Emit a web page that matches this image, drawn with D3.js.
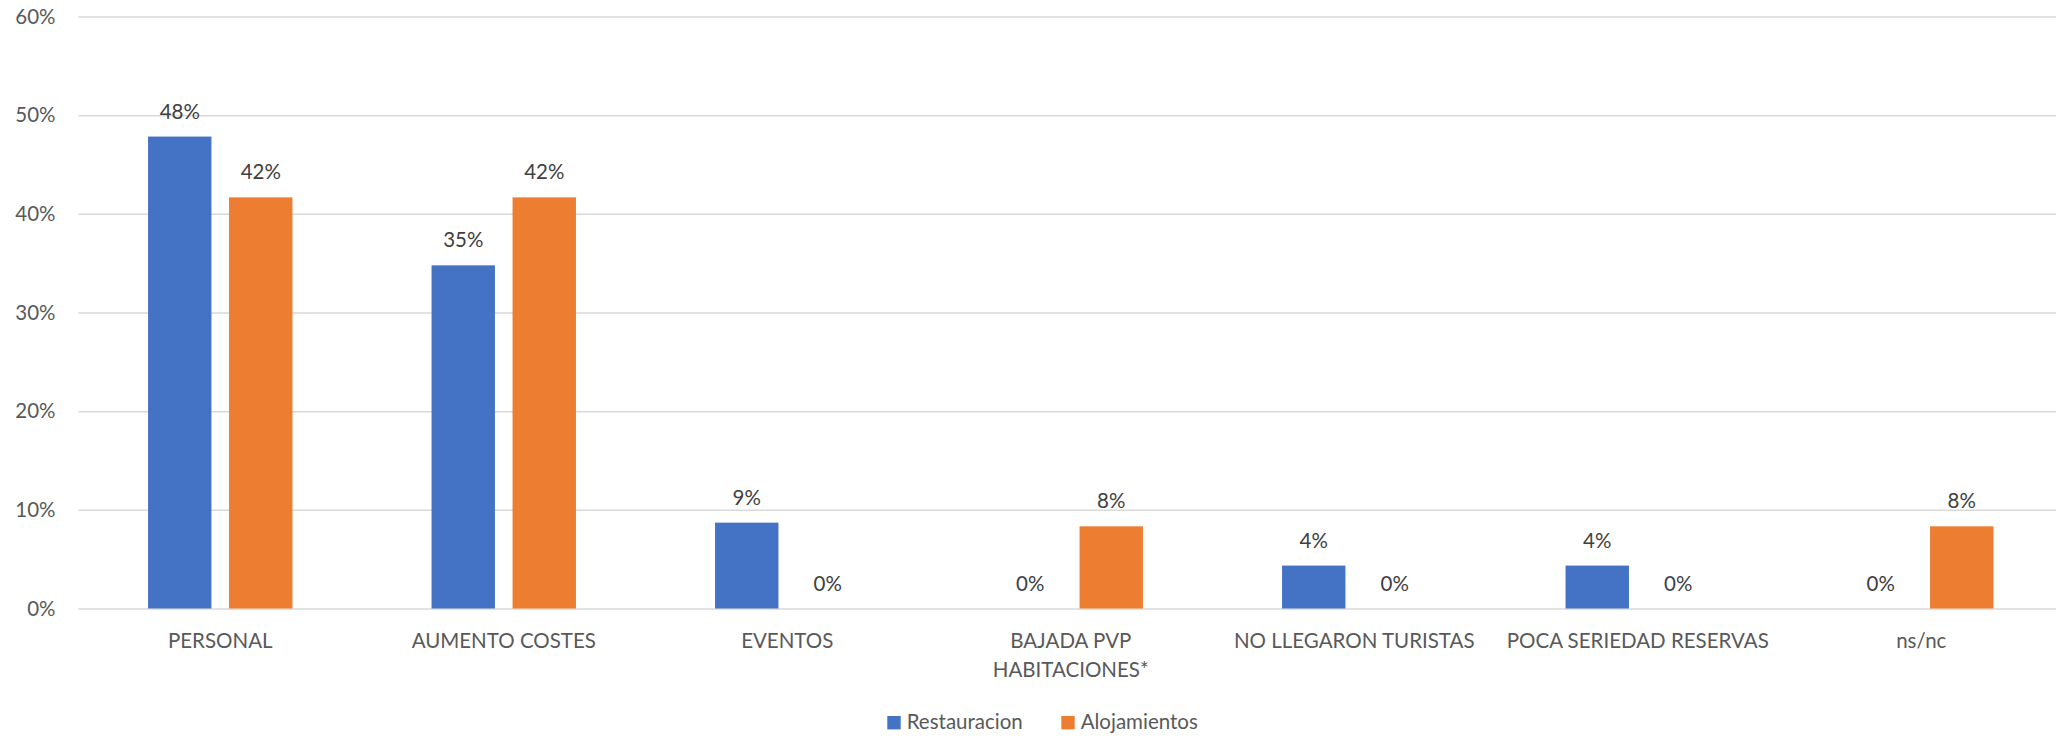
<!DOCTYPE html>
<html>
<head>
<meta charset="utf-8">
<script src="https://cdn.jsdelivr.net/npm/d3@7"></script>
<style>
  html, body { margin: 0; padding: 0; background: #fff; }
  svg { display: block; font-family: Lato, "Open Sans", sans-serif; }
</style>
</head>
<body>
<svg id="chart" width="2056" height="738"></svg>
<script>
const categories = ["PERSONAL", "AUMENTO COSTES", "EVENTOS", "BAJADA PVP HABITACIONES*", "NO LLEGARON TURISTAS", "POCA SERIEDAD RESERVAS", "ns/nc"];
const seriesNames = ["Restauracion", "Alojamientos"];
const restauracion = [0.4783, 0.3478, 0.0870, 0, 0.0435, 0.0435, 0];
const alojamientos = [0.4167, 0.4167, 0, 0.0833, 0, 0, 0.0833];
const yTicks = [0, 0.1, 0.2, 0.3, 0.4, 0.5, 0.6];
const colors = ["#4472C4", "#ED7D31"];

(function () {
const svg = d3.select("#chart");
const mLeft = 78.5, step = 283.5;
const mRight = mLeft + step * categories.length;
const mTop = 16.5, mBottom = 608.5;
const fontSize = 20.5;
const fontFam = "Lato, 'Open Sans', sans-serif";

const x = d3.scaleBand().domain(categories).range([mLeft, mRight]).paddingInner(0).paddingOuter(0);
const y = d3.scaleLinear().domain([0, 0.6]).range([mBottom, mTop]);

const barW = 63.4, gap = 17.6;
const groupW = barW * 2 + gap;
const x1 = d3.scaleBand().domain(seriesNames).range([0, groupW]).paddingInner(gap / (barW + gap)).paddingOuter(0);

// Grid lines + y labels
const yAxis = d3.axisLeft(y).tickValues(yTicks).tickFormat(d3.format(".0%")).tickSize(-(mRight - mLeft)).tickPadding(23);
const gy = svg.append("g").attr("transform", `translate(${mLeft},0)`).call(yAxis);
gy.select(".domain").remove();
gy.selectAll(".tick line").attr("stroke", "#D9D9D9").attr("stroke-width", 1.5);
gy.selectAll(".tick text").attr("fill", "#595959").attr("font-size", fontSize).attr("font-family", fontFam);

const data = categories.map((c, i) => ({ cat: c, vals: [restauracion[i], alojamientos[i]] }));

const groups = svg.append("g").selectAll("g").data(data).join("g")
  .attr("transform", d => `translate(${x(d.cat) + (x.bandwidth() - groupW) / 2},0)`);

groups.selectAll("rect").data(d => d.vals.map((v, j) => ({ name: seriesNames[j], v, j })))
  .join("rect")
  .attr("x", d => x1(d.name))
  .attr("width", x1.bandwidth())
  .attr("y", d => y(d.v))
  .attr("height", d => y(0) - y(d.v))
  .attr("fill", d => colors[d.j]);

groups.selectAll("text").data(d => d.vals.map((v, j) => ({ name: seriesNames[j], v, j })))
  .join("text")
  .attr("x", d => x1(d.name) + x1.bandwidth() / 2)
  .attr("y", d => y(d.v) - 18)
  .attr("text-anchor", "middle")
  .attr("font-size", fontSize)
  .attr("fill", "#404040")
  .text(d => d3.format(".0%")(d.v));

// X axis labels
const xAxis = d3.axisBottom(x).tickSize(0).tickPadding(0);
const gx = svg.append("g").attr("transform", `translate(0,${mBottom})`).call(xAxis);
gx.select(".domain").remove();
gx.selectAll(".tick text")
  .attr("fill", "#595959").attr("font-size", fontSize).attr("font-family", fontFam)
  .attr("dy", null).attr("y", 39.8)
  .each(function (d) {
    const t = d3.select(this);
    const words = d.split(/\s+/);
    t.text(null);
    let line = [];
    let tspan = t.append("tspan").attr("x", 0).attr("y", 39.8);
    let lineNo = 0;
    for (const w of words) {
      line.push(w);
      tspan.text(line.join(" "));
      if (tspan.node().getComputedTextLength() > step - 8 && line.length > 1) {
        line.pop();
        tspan.text(line.join(" "));
        line = [w];
        lineNo++;
        tspan = t.append("tspan").attr("x", 0).attr("y", 39.8 + lineNo * 28.4).text(w);
      }
    }
  });

// Legend
const legendItems = [{ name: seriesNames[0], x: 887.3 }, { name: seriesNames[1], x: 1061.3 }];
const lg = svg.append("g");
legendItems.forEach((it, j) => {
  lg.append("rect").attr("x", it.x).attr("y", 716).attr("width", 13.4).attr("height", 13.4).attr("fill", colors[j]);
  lg.append("text").attr("x", it.x + 19.4).attr("y", 729.3).attr("font-size", fontSize).attr("font-family", fontFam).attr("fill", "#595959").text(it.name);
});
})();
</script>
</body>
</html>
